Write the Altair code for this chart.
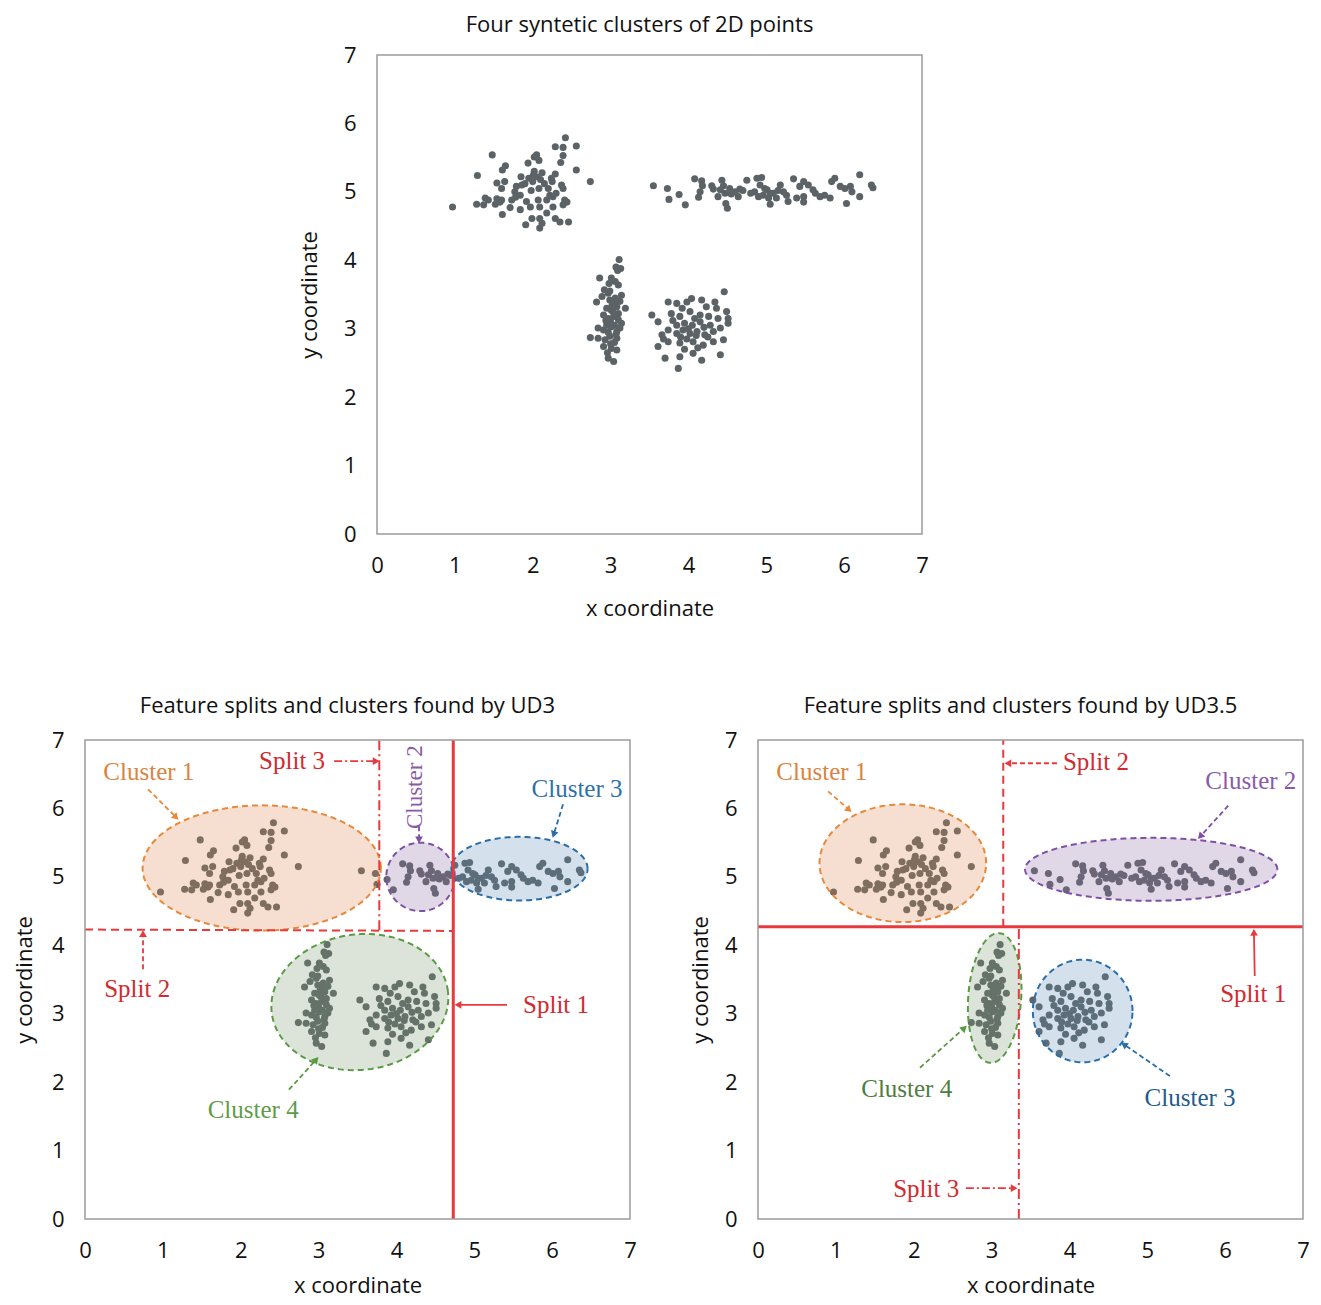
import altair as alt
import numpy as np
import pandas as pd

# ---------------- data: four clusters ----------------
c1_x = [0.97,1.29,1.48,1.61,1.65,1.28,1.39,1.37,1.43,1.52,
        1.58,1.60,1.54,1.61,1.71,1.73,1.84,1.54,1.64,1.60,
        1.79,1.86,1.77,1.84,2.01,1.94,2.02,2.05,2.08,2.29,
        2.39,2.42,2.56,2.39,2.36,2.56,2.74,2.29,2.24,2.37,
        2.39,2.22,2.26,2.41,2.44,2.39,2.26,2.18,2.29,2.35,
        2.46,2.09,2.12,1.99,1.91,2.09,2.07,1.97,1.92,2.09,
        1.95,2.00,2.05,2.10,2.15,1.90,2.02,2.12,2.20,1.85,
        2.08,1.98,2.25,2.30,1.78,2.18]
c1_y = [4.78,5.24,5.54,5.32,5.38,4.82,4.91,4.81,4.88,4.82,
        4.85,4.88,4.90,4.67,4.77,4.88,4.74,5.13,5.15,5.05,
        5.08,5.10,5.00,4.95,5.25,5.42,5.51,5.54,5.46,5.66,
        5.65,5.79,5.67,5.53,5.43,5.32,5.15,5.26,5.20,5.10,
        5.05,4.95,4.93,4.88,4.85,4.81,4.78,4.69,4.61,4.56,
        4.56,4.61,4.54,4.61,4.52,4.78,4.88,4.78,4.86,4.47,
        5.20,5.15,5.22,5.18,5.12,5.12,5.30,5.28,5.05,5.22,
        5.05,5.02,5.15,4.98,4.92,4.88]

c2_x = [3.55,3.73,3.75,3.88,3.96,4.08,4.17,4.18,4.15,4.13,
        4.30,4.32,4.43,4.45,4.41,4.47,4.38,4.50,4.48,4.53,
        4.60,4.64,4.66,4.75,4.88,4.94,4.92,4.85,4.90,4.96,
        5.01,5.03,5.09,5.13,5.05,5.18,5.26,5.28,5.35,5.39,
        5.43,5.48,5.48,5.48,5.54,5.60,5.63,5.69,5.75,5.82,
        5.84,5.88,5.95,6.01,6.03,6.08,6.10,6.20,6.20,6.35,6.37,
        4.70,4.80,4.98,5.05,5.15,5.22,4.55]
c2_y = [5.09,5.05,4.89,4.96,4.81,5.19,5.16,5.09,5.00,4.92,
        5.09,5.04,5.17,5.09,5.03,4.98,4.93,4.76,4.83,5.05,
        5.00,4.93,5.04,5.17,5.20,5.21,5.10,5.00,4.93,4.95,
        5.03,4.91,4.98,4.91,4.82,5.10,4.95,4.86,5.19,4.91,
        5.08,5.15,4.93,4.85,5.10,5.03,4.98,4.93,4.95,4.91,
        5.15,5.20,5.08,5.05,4.83,5.08,5.00,5.25,4.93,5.10,5.06,
        5.02,4.98,5.05,4.98,5.02,5.00,4.97]

c3_x = [3.11,3.07,3.13,3.09,2.86,3.01,3.06,2.98,3.10,2.92,
        2.97,2.89,3.14,2.82,2.99,3.04,2.95,3.01,3.08,3.19,
        2.91,2.97,3.04,3.10,2.84,2.91,3.01,3.08,3.12,2.74,
        2.84,2.93,2.99,3.08,2.91,3.01,3.08,2.97,3.04,3.00,
        3.05,2.95,3.02,3.06,2.97,3.10,3.00,
        3.03,2.94,3.07,2.99,3.12,2.96,3.05,3.14]
c3_y = [4.01,3.90,3.88,3.85,3.74,3.74,3.69,3.66,3.64,3.57,
        3.52,3.47,3.49,3.39,3.42,3.37,3.30,3.27,3.32,3.30,
        3.20,3.15,3.18,3.13,3.01,2.98,3.03,2.96,3.01,2.87,
        2.86,2.84,2.89,2.86,2.74,2.71,2.69,2.57,2.52,3.10,
        3.05,3.05,3.35,3.45,2.95,3.22,2.78,
        3.25,3.12,2.92,3.55,3.40,2.65,2.80,3.08]

c4_x = [3.74,3.85,3.98,4.04,4.17,4.23,4.34,4.46,
        3.53,3.61,3.78,3.89,4.02,
        4.15,4.26,4.38,4.49,4.51,
        3.66,3.74,3.85,3.93,4.02,4.11,4.21,4.32,4.41,
        3.61,3.74,3.89,4.06,4.19,4.32,4.45,
        3.70,3.89,4.06,4.17,4.41,
        3.87,4.51,
        4.00,4.05,3.95,4.10,3.90,4.15,3.98,4.08,3.85,4.20,
        3.80,4.28,3.95,4.12,3.68,4.36,3.92,4.25]
c4_y = [3.39,3.37,3.39,3.44,3.42,3.32,3.39,3.54,
        3.20,3.10,3.22,3.18,3.25,
        3.20,3.18,3.15,3.25,3.15,
        2.91,2.98,2.93,2.98,2.93,2.96,2.91,2.96,3.01,
        2.74,2.81,2.79,2.81,2.76,2.81,2.84,
        2.57,2.59,2.64,2.54,2.62,
        2.42,3.08,
        3.00,3.05,3.08,2.90,2.88,3.10,2.85,3.15,3.05,3.02,
        3.12,3.05,2.70,2.72,2.85,3.30,3.30,2.88]

# ---------------- annotation data ----------------
ud3_ell_name = ["C1", "C2", "C3", "C4"]
ud3_ell_cx = [2.27, 4.31, 5.58, 3.53]
ud3_ell_cy = [5.13, 5.00, 5.12, 3.17]
ud3_ell_rx = [1.53, 0.44, 0.875, 1.14]
ud3_ell_ry = [0.915, 0.50, 0.465, 0.99]
ud3_ell_rot = [0, 0, 0, 7]

ud35_ell_name = ["C1", "C2", "C3", "C4"]
ud35_ell_cx = [1.86, 5.05, 4.17, 3.04]
ud35_ell_cy = [5.20, 5.11, 3.04, 3.23]
ud35_ell_rx = [1.07, 1.62, 0.64, 0.34]
ud35_ell_ry = [0.86, 0.46, 0.75, 0.95]
ud35_ell_rot = [0, 0, 0, -4]

ell_stroke = {"C1": "#e8893a", "C2": "#7f4fa6", "C3": "#2a6ea8", "C4": "#5a9a44"}
ell_fill = {"C1": "#dd8a50", "C2": "#8f6fa8", "C3": "#5f8db5", "C4": "#7d9a73"}

# splits: x1, x2, y1, y2, style
ud3_split_x1 = [4.73, 0.00, 3.78]
ud3_split_x2 = [4.73, 4.73, 3.78]
ud3_split_y1 = [0.00, 4.23, 4.22]
ud3_split_y2 = [7.00, 4.21, 7.00]
ud3_split_style = ["solid", "dash", "dashdot"]

ud35_split_x1 = [0.00, 3.15, 3.35]
ud35_split_x2 = [7.00, 3.15, 3.35]
ud35_split_y1 = [4.27, 4.27, 0.00]
ud35_split_y2 = [4.27, 7.00, 4.27]
ud35_split_style = ["solid", "dash", "dashdot"]

RED = "#e8393c"
RED_TXT = "#d42a2f"

# arrows: x1, y1, x2, y2, color, style
ud3_arr_x1 = [3.20, 0.745, 5.42, 0.81, 4.29, 6.14, 2.62]
ud3_arr_y1 = [6.69, 3.65, 3.13, 6.28, 5.74, 6.06, 1.89]
ud3_arr_x2 = [3.74, 0.745, 4.79, 1.17, 4.29, 6.02, 2.97]
ud3_arr_y2 = [6.69, 4.17, 3.13, 5.87, 5.54, 5.62, 2.33]
ud3_arr_col = [RED, RED, RED, "#e8893a", "#7f4fa6", "#2a6ea8", "#5a9a44"]
ud3_arr_style = ["dashdot", "dash", "solid", "dash", "dash", "dash", "dash"]

ud35_arr_x1 = [3.84, 6.38, 2.67, 0.90, 6.04, 5.29, 2.08]
ud35_arr_y1 = [6.66, 3.55, 0.45, 6.25, 6.04, 2.09, 2.21]
ud35_arr_x2 = [3.21, 6.37, 3.29, 1.17, 5.68, 4.70, 2.65]
ud35_arr_y2 = [6.66, 4.19, 0.45, 5.98, 5.59, 2.55, 2.79]
ud35_arr_col = [RED, RED, RED, "#e8893a", "#7f4fa6", "#2a6ea8", "#5a9a44"]
ud35_arr_style = ["dash", "solid", "dashdot", "dash", "dash", "dash", "dash"]

# labels: text, x, y, color, angle, font size
ud3_lab_text = ["Split 3", "Split 2", "Split 1", "Cluster 1", "Cluster 2", "Cluster 3", "Cluster 4"]
ud3_lab_x = [2.66, 0.67, 6.05, 0.82, 4.24, 6.32, 2.16]
ud3_lab_y = [6.69, 3.36, 3.13, 6.53, 6.31, 6.28, 1.59]
ud3_lab_col = [RED_TXT, RED_TXT, RED_TXT, "#d9843f", "#8a5aa6", "#2b72ad", "#5f9b48"]
ud3_lab_ang = [0, 0, 0, 0, 270, 0, 0]
ud3_lab_fs = [25, 25, 25, 25, 23, 25, 25]

ud35_lab_text = ["Split 2", "Split 1", "Split 3", "Cluster 1", "Cluster 2", "Cluster 3", "Cluster 4"]
ud35_lab_x = [4.34, 6.36, 2.16, 0.82, 6.33, 5.55, 1.91]
ud35_lab_y = [6.68, 3.29, 0.44, 6.53, 6.40, 1.77, 1.90]
ud35_lab_col = [RED_TXT, RED_TXT, RED_TXT, "#d9843f", "#8a5aa6", "#1f5b8c", "#4e7d3e"]
ud35_lab_ang = [0, 0, 0, 0, 0, 0, 0]
ud35_lab_fs = [25, 25, 25, 25, 25, 25, 25]

# ---------------- helpers ----------------
FONT = "Open Sans"
FS = 22
SERIF = "Liberation Serif"
W, H = 545, 479
SX, SY = W / 7.0, H / 7.0
DASH = {"solid": [1, 0], "dash": [8, 5], "dashdot": [10, 4, 2, 4]}

points = pd.DataFrame({"x": c1_x + c2_x + c3_x + c4_x,
                       "y": c1_y + c2_y + c3_y + c4_y})


def ell_outline(cx, cy, rx, ry, rot):
    t = np.linspace(0, 2 * np.pi, 181)
    a, b = rx * SX, ry * SY
    th = np.radians(rot)
    u = a * np.cos(t) * np.cos(th) - b * np.sin(t) * np.sin(th)
    v = a * np.cos(t) * np.sin(th) + b * np.sin(t) * np.cos(th)
    return pd.DataFrame({"x": cx + u / SX, "y": cy + v / SY, "o": np.arange(len(t))})


def ell_area(cx, cy, rx, ry, rot):
    a, b = rx * SX, ry * SY
    th = np.radians(rot)
    c, s = np.cos(th), np.sin(th)
    umax = np.sqrt(a * a * c * c + b * b * s * s)
    uu = umax * np.cos(np.linspace(np.pi, 0, 121))
    A = s * s / a ** 2 + c * c / b ** 2
    B = 2 * uu * c * s * (1 / a ** 2 - 1 / b ** 2)
    C = uu ** 2 * (c * c / a ** 2 + s * s / b ** 2) - 1
    D = np.sqrt(np.clip(B * B - 4 * A * C, 0, None))
    v1 = (-B - D) / (2 * A)
    v2 = (-B + D) / (2 * A)
    return pd.DataFrame({"x": cx + uu / SX, "lo": cy + v1 / SY, "hi": cy + v2 / SY})


def make_panel(title, ytp, xtp, toff, ells=None, splits=None, arrows=None, labels=None):
    xs = alt.Scale(domain=[0, 7], nice=False, zero=False)
    ys = alt.Scale(domain=[0, 7], nice=False, zero=False)
    common = dict(values=list(range(8)), grid=False, ticks=False, tickSize=0, domain=False,
                  labelFlush=False, labelFont=FONT, labelFontSize=FS, labelColor="#111111",
                  titleFont=FONT, titleFontSize=FS, titleFontWeight="normal", titleColor="#111111",
                  format="d")
    xaxis = alt.Axis(labelPadding=21, titlePadding=xtp, **common)
    yaxis = alt.Axis(labelPadding=21, titlePadding=ytp, **common)

    def X(f):
        return alt.X(f, type="quantitative", scale=xs, axis=xaxis, title="x coordinate")

    def Y(f):
        return alt.Y(f, type="quantitative", scale=ys, axis=yaxis, title="y coordinate")

    layers = [alt.Chart(points).mark_circle(size=50, color="#5c6366", opacity=1)
              .encode(x=X("x"), y=Y("y"))]

    if ells is not None:
        for name, cx, cy, rx, ry, rot in ells:
            layers.append(alt.Chart(ell_area(cx, cy, rx, ry, rot))
                          .mark_area(color=ell_fill[name], opacity=0.27)
                          .encode(x=X("x"), y=Y("lo"), y2=alt.Y2("hi")))
        for name, cx, cy, rx, ry, rot in ells:
            layers.append(alt.Chart(ell_outline(cx, cy, rx, ry, rot))
                          .mark_line(color=ell_stroke[name], strokeWidth=2, strokeDash=[6, 4])
                          .encode(x=X("x"), y=Y("y"), order=alt.Order("o:Q")))

    if splits is not None:
        sdf = pd.DataFrame(splits, columns=["x1", "x2", "y1", "y2", "st"])
        for st, wdt in [("solid", 3), ("dash", 2), ("dashdot", 2)]:
            sub = sdf[sdf.st == st]
            mk = dict(color=RED, strokeWidth=wdt)
            if st != "solid":
                mk["strokeDash"] = DASH[st]
            layers.append(alt.Chart(sub).mark_rule(**mk)
                          .encode(x=X("x1"), x2=alt.X2("x2"), y=Y("y1"), y2=alt.Y2("y2")))

    if arrows is not None:
        adf = pd.DataFrame(arrows, columns=["x1", "y1", "x2", "y2", "c", "st"])
        adf["ang"] = (np.degrees(np.arctan2((adf.x2 - adf.x1) * SX, (adf.y2 - adf.y1) * SY)) + 360) % 360
        for st in ["solid", "dash", "dashdot"]:
            sub = adf[adf.st == st]
            if len(sub) == 0:
                continue
            mk = dict(strokeWidth=1.8)
            if st == "dash":
                mk["strokeDash"] = [5, 3]
            elif st == "dashdot":
                mk["strokeDash"] = [8, 3, 2, 3]
            layers.append(alt.Chart(sub).mark_rule(**mk)
                          .encode(x=X("x1"), x2=alt.X2("x2"), y=Y("y1"), y2=alt.Y2("y2"),
                                  color=alt.Color("c:N", scale=None)))
        layers.append(alt.Chart(adf).mark_point(shape="triangle-up", filled=True, size=60, opacity=1)
                      .encode(x=X("x2"), y=Y("y2"), color=alt.Color("c:N", scale=None),
                              angle=alt.Angle("ang:Q", scale=None)))

    if labels is not None:
        ldf = pd.DataFrame(labels, columns=["t", "x", "y", "c", "a", "fs"])
        layers.append(alt.Chart(ldf).mark_text(font=SERIF, align="center", baseline="middle")
                      .encode(x=X("x"), y=Y("y"), text="t:N", color=alt.Color("c:N", scale=None),
                              angle=alt.Angle("a:Q", scale=None), size=alt.Size("fs:Q", scale=None)))

    frame = pd.DataFrame({"x0": [0], "x1": [7], "y0": [0], "y1": [7]})
    layers.append(alt.Chart(frame).mark_rect(fillOpacity=0, stroke="#9c9c9c", strokeWidth=1.5)
                  .encode(x=X("x0"), x2=alt.X2("x1"), y=Y("y0"), y2=alt.Y2("y1")))

    return alt.layer(*layers).properties(
        width=W, height=H,
        title=alt.TitleParams(title, font=FONT, fontSize=FS, fontWeight="normal", color="#111111",
                              offset=toff, dx=-10, anchor="middle"))


ud3_ells = list(zip(ud3_ell_name, ud3_ell_cx, ud3_ell_cy, ud3_ell_rx, ud3_ell_ry, ud3_ell_rot))
ud35_ells = list(zip(ud35_ell_name, ud35_ell_cx, ud35_ell_cy, ud35_ell_rx, ud35_ell_ry, ud35_ell_rot))
ud3_splits = list(zip(ud3_split_x1, ud3_split_x2, ud3_split_y1, ud3_split_y2, ud3_split_style))
ud35_splits = list(zip(ud35_split_x1, ud35_split_x2, ud35_split_y1, ud35_split_y2, ud35_split_style))
ud3_arrows = list(zip(ud3_arr_x1, ud3_arr_y1, ud3_arr_x2, ud3_arr_y2, ud3_arr_col, ud3_arr_style))
ud35_arrows = list(zip(ud35_arr_x1, ud35_arr_y1, ud35_arr_x2, ud35_arr_y2, ud35_arr_col, ud35_arr_style))
ud3_labels = list(zip(ud3_lab_text, ud3_lab_x, ud3_lab_y, ud3_lab_col, ud3_lab_ang, ud3_lab_fs))
ud35_labels = list(zip(ud35_lab_text, ud35_lab_x, ud35_lab_y, ud35_lab_col, ud35_lab_ang, ud35_lab_fs))

top = make_panel("Four syntetic clusters of 2D points", 22, 22, 7)
bl = make_panel("Feature splits and clusters found by UD3", 15, 14, 11,
                ud3_ells, ud3_splits, ud3_arrows, ud3_labels)
br = make_panel("Feature splits and clusters found by UD3.5", 12, 14, 11,
                ud35_ells, ud35_splits, ud35_arrows, ud35_labels)

spacer = alt.Chart(pd.DataFrame({"a": [0]})).mark_point(opacity=0).encode(
    x=alt.value(0), y=alt.value(0)).properties(width=213, height=10)

top_row = alt.hconcat(spacer, top, spacing=0)
bottom_row = alt.hconcat(bl, br, spacing=52)

chart = alt.vconcat(top_row, bottom_row, spacing=76).properties(
    padding={"left": 5, "top": 6, "right": 0, "bottom": 1},
    background="white"
).configure_view(stroke="transparent", strokeWidth=0)

chart.save("out.html", embed_options={"renderer": "svg", "actions": False})
